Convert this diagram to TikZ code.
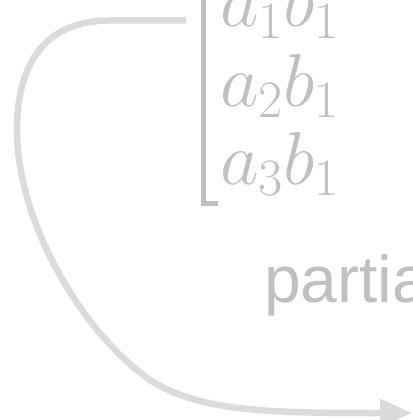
\RequirePackage{fix-cm}
\documentclass[tikz,border=0pt]{standalone}
\usepackage{fontspec}
\newfontfamily\arialfont{Liberation Sans}
\usepackage{tikz}
\usetikzlibrary{arrows.meta,positioning}
\definecolor{textgray}{RGB}{192,192,192}
\definecolor{arrowgray}{RGB}{219,219,219}

\begin{document}
\begin{tikzpicture}[
    x=1pt, y=1pt,
    entry/.style={anchor=base west, inner sep=0pt, text=textgray,
                  font=\fontsize{75}{85}\selectfont},
    label/.style={anchor=base west, inner sep=0pt, text=textgray,
                  font=\arialfont\fontsize{66}{76}\selectfont},
    flow/.style={draw=arrowgray, line width=6.5pt,
                 -{Triangle[length=32pt, width=27pt]}},
    bracket/.style={draw=textgray, line width=5pt}
]
\useasboundingbox (0,0) rectangle (412,-420);

% Column entries
\node[entry] (row1) at (220,-27) {$a_1b_1$};
\node[entry] (row2) at (220,-106) {$a_2b_1$};
\node[entry] (row3) at (220,-184) {$a_3b_1$};

% Left bracket
\draw[bracket] (203.5,10) -- (203.5,-203.5) -- (218,-203.5);

% Label (cut by the page edge)
\node[label] (part) at (264,-302) {partia};

% Curved arrow
\coordinate (from) at (186,-20.5);
\coordinate (to) at (412,-413);
\draw[flow] (from) -- (110,-20.5)
    .. controls (40,-20.5) and (17,-70) .. (17,-130)
    .. controls (17,-225) and (85,-335) .. (150,-380)
    .. controls (200,-412) and (270,-413) .. (to);

\end{tikzpicture}
\end{document}
